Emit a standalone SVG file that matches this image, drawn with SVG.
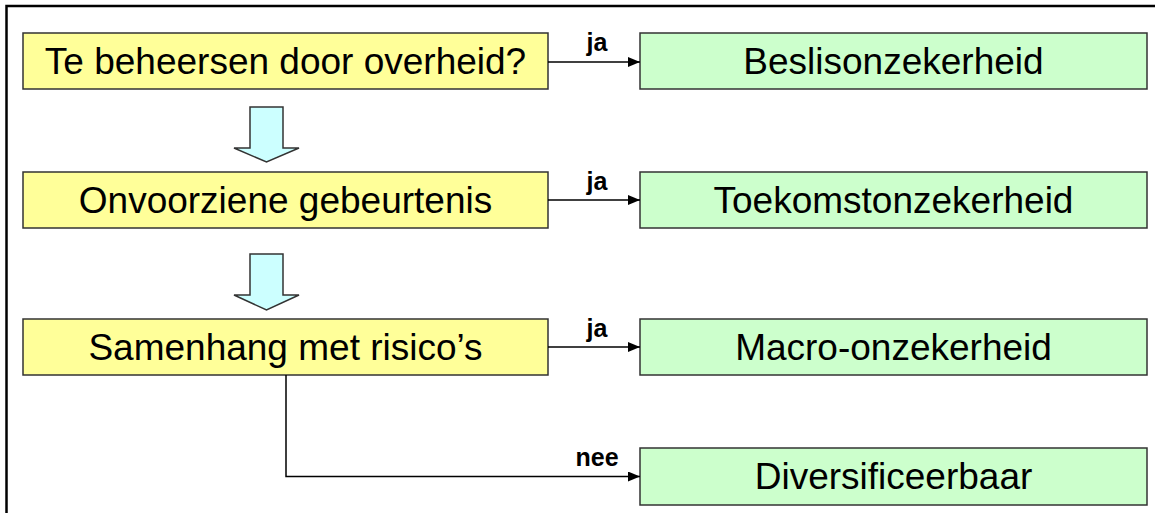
<svg xmlns="http://www.w3.org/2000/svg" width="1155" height="513" viewBox="0 0 1155 513">
<style>
.q{fill:#FFFF99;stroke:#333;stroke-width:1.5}
.r{fill:#CCFFCC;stroke:#333;stroke-width:1.5}
.t{font-family:"Liberation Sans",Arial,sans-serif;font-size:37px;fill:#000;text-anchor:middle}
.l{font-family:"Liberation Sans",Arial,sans-serif;font-size:25px;font-weight:bold;fill:#000;text-anchor:middle}
.c{fill:none;stroke:#000;stroke-width:1.5}
.b{fill:#CCFFFF;stroke:#333;stroke-width:1.5;stroke-linejoin:miter}
</style>
<defs>
<marker id="ah" markerWidth="12" markerHeight="10" refX="12" refY="5" orient="auto" markerUnits="userSpaceOnUse">
<path d="M0,0 L12,5 L0,10 Z" fill="#000"/>
</marker>
</defs>
<rect width="1155" height="513" fill="#fff"/>
<path d="M6.5,513 V6 H1155" fill="none" stroke="#000" stroke-width="2.5"/>
<g id="q1"><rect class="q" x="23" y="33" width="525" height="56"/><text class="t" x="285.5" y="74">Te beheersen door overheid?</text></g>
<g id="q2"><rect class="q" x="23" y="172" width="525" height="56"/><text class="t" x="285.5" y="213">Onvoorziene gebeurtenis</text></g>
<g id="q3"><rect class="q" x="23" y="319" width="525" height="56"/><text class="t" x="285.5" y="360">Samenhang met risico’s</text></g>
<g id="a1"><rect class="r" x="640" y="33" width="507" height="56"/><text class="t" x="893.5" y="74">Beslisonzekerheid</text></g>
<g id="a2"><rect class="r" x="640" y="172" width="507" height="56"/><text class="t" x="893.5" y="213">Toekomstonzekerheid</text></g>
<g id="a3"><rect class="r" x="640" y="319" width="507" height="56"/><text class="t" x="893.5" y="360">Macro-onzekerheid</text></g>
<g id="a4"><rect class="r" x="640" y="448" width="507" height="57"/><text class="t" x="893.5" y="489">Diversificeerbaar</text></g>
<g id="blockarrows">
<path class="b" d="M250,107 H283 V148 H299 L266.5,162 L234,148 H250 Z"/>
<path class="b" d="M250,254 H283 V295 H299 L266.5,310 L234,295 H250 Z"/>
</g>
<g id="connectors">
<path class="c" d="M548,62 H640" marker-end="url(#ah)"/>
<path class="c" d="M548,200 H640" marker-end="url(#ah)"/>
<path class="c" d="M548,347 H640" marker-end="url(#ah)"/>
<path class="c" d="M286,375 V476.5 H640" marker-end="url(#ah)"/>
<text class="l" x="597" y="51">ja</text>
<text class="l" x="597" y="190">ja</text>
<text class="l" x="597" y="337">ja</text>
<text class="l" x="597" y="466">nee</text>
</g>
</svg>
